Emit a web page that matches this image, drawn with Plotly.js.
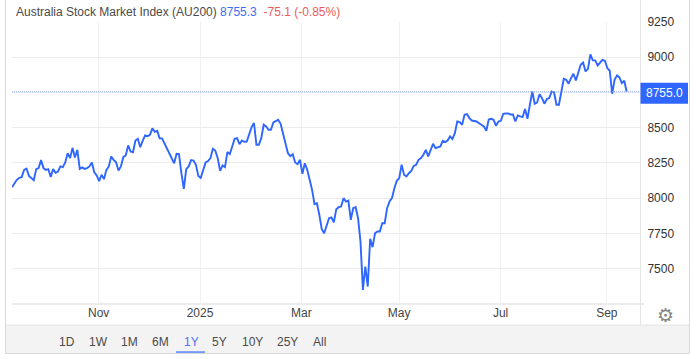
<!DOCTYPE html>
<html><head><meta charset="utf-8">
<script src="https://cdn.plot.ly/plotly-3.0.1.min.js"></script>
<style>html,body{margin:0;padding:0;background:#fff;overflow:hidden}</style>
</head><body><div id="chart" style="width:698px;height:359px"></div>
<script>
// Index level per trading session (one year of daily closes)
const closeOct = [8078,8102,8130,8144,8149,8201,8210,8158,8144,8128,8206,8213,8270,8213,8201,8206,8151,8206,8180,8189,8225,8220,8253,8319,8284,8357,8289,8343,8208,8218,8208,8213,8225,8253,8184,8161];
const closeNovDec = [8121,8166,8135,8201,8225,8296,8272,8255,8196,8225,8291,8303,8374,8331,8326,8409,8421,8362,8407,8445,8440,8450,8495,8471,8478,8424,8424,8390,8350,8326,8291,8248,8315,8312,8177,8066,8206,8225,8270,8267,8236,8158];
const closeJanFeb = [8144,8201,8253,8263,8284,8350,8338,8284,8194,8232,8220,8327,8312,8367,8421,8426,8383,8409,8400,8402,8462,8504,8533,8379,8379,8426,8521,8509,8485,8485,8537,8544,8556,8528,8462,8391,8320,8298,8312,8253,8241,8272,8173];
const closeMarApr = [8248,8201,8130,8059,7957,7964,7881,7780,7751,7799,7858,7863,7829,7922,7936,7941,8000,7976,7983,7846,7929,7936,7858,7692,7349,7515,7373,7711,7652,7751,7763,7763,7822,7822,7929,7976,8000,8071,8123,8142];
const closeMayJun = [8237,8166,8154,8177,8194,8229,8237,8272,8284,8308,8343,8296,8343,8386,8355,8362,8367,8407,8398,8409,8438,8419,8461,8544,8540,8521,8592,8596,8568,8551,8549,8544,8532,8523,8509,8478,8558,8563,8556,8514,8544,8549,8599,8601,8601,8594,8594];
const closeJulAug = [8544,8587,8580,8575,8632,8563,8663,8757,8670,8679,8738,8710,8670,8703,8710,8757,8750,8663,8663,8769,8847,8840,8812,8852,8883,8835,8888,8947,8963,8899,8918,9020,8978,8978,8942,8966,8982,8975,8923,8904];
const closeSep = [8741,8840,8871,8857,8817,8833,8755.3];
const seriesValues = [].concat(closeOct, closeNovDec, closeJanFeb, closeMarApr, closeMayJun, closeJulAug, closeSep);
const sessions = seriesValues.map((_, i) => i);

const monthTickSessions = [35.8, 77.7, 119.6, 160, 201.9, 245.8];
const monthTickLabels = ['Nov', '2025', 'Mar', 'May', 'Jul', 'Sep'];
const priceTicks = [7500, 7750, 8000, 8250, 8500, 8750, 9000, 9250];
const priceTickLabels = ['7500', '7750', '8000', '8250', '8500', '', '9000', '9250'];
const rangeButtons = ['1D', '1W', '1M', '6M', '1Y', '5Y', '10Y', '25Y', 'All'];
const lastPrice = 8755.0;

const W = 698, H = 359, L = 12, R = 640, T = 22.3, B = 304;
const px = x => (x - L) / (R - L);
const py = y => (B - y) / (B - T);
const BLUE = '#2f66ff';
const buttonCentres = [66.5, 98, 129.5, 160.5, 191, 219, 252, 287, 319];
const rect = (x0, y0, x1, y1, fill, line) => ({type: 'rect', xref: 'paper', yref: 'paper', layer: 'below',
  x0: px(x0), x1: px(x1), y0: py(y0), y1: py(y1), fillcolor: fill, line: {width: line ? 1 : 0, color: line || fill}});
const seg = (x0, y0, x1, y1, color, width) => ({type: 'line', xref: 'paper', yref: 'paper', layer: 'below',
  x0: px(x0), x1: px(x1), y0: py(y0), y1: py(y1), line: {color, width}});

const annotations = [
  {xref: 'paper', yref: 'paper', x: px(14), y: py(12), xanchor: 'left', yanchor: 'middle', showarrow: false,
   font: {family: 'Liberation Sans, Arial, sans-serif', size: 12, color: '#4a4a4a'},
   text: 'Australia Stock Market Index (AU200) <span style="color:#3c6cf5">8755.3</span>  <span style="color:#f05a5a">-75.1 (-0.85%)</span>'},
  {xref: 'paper', yref: 'paper', x: px(664.5), y: py(93.5), xanchor: 'center', yanchor: 'middle', showarrow: false,
   font: {family: 'Liberation Sans, Arial, sans-serif', size: 12, color: '#ffffff'}, text: lastPrice.toFixed(1)},
  {xref: 'paper', yref: 'paper', x: px(665), y: py(315), xanchor: 'center', yanchor: 'middle', showarrow: false,
   font: {family: 'DejaVu Sans', size: 19, color: '#858585'}, text: '\u2699'}
].concat(rangeButtons.map((t, i) => ({
  xref: 'paper', yref: 'paper', x: px(buttonCentres[i]), y: py(341.5), xanchor: 'center', yanchor: 'middle', showarrow: false,
  font: {family: 'Liberation Sans, Arial, sans-serif', size: 12, color: t === '1Y' ? '#5b6cf0' : '#4a4a4a'}, text: t
})));

const shapes = [
  rect(6, 325, 689, 353, '#f3f3f3'),
  seg(5.5, 0, 5.5, 353.5, '#d9d9d9', 1),
  seg(5, 353.5, 689.5, 353.5, '#d9d9d9', 1),
  seg(689.5, 0, 689.5, 353.5, '#d9d9d9', 1),
  seg(6, 325, 689, 325, '#e4e4e4', 1),
  seg(640.5, 0, 640.5, 325, '#e4e4e4', 1),
  seg(L, 304, 644, 304, '#e6e6e6', 1.5),
  seg(176, 352, 205, 352, BLUE, 1.2),
  {type: 'line', xref: 'paper', yref: 'y', x0: 0, x1: 1, y0: lastPrice, y1: lastPrice, line: {color: '#8fabff', width: 1, dash: '1px,1px'}},
  {type: 'rect', xref: 'paper', yref: 'paper', x0: px(640.5), x1: px(688), y0: py(83), y1: py(104), fillcolor: BLUE, line: {width: 0}, layer: 'above'}
];

Plotly.newPlot('chart', [{
  x: sessions, y: seriesValues, type: 'scatter', mode: 'lines',
  line: {color: BLUE, width: 1.9, shape: 'linear'}, hoverinfo: 'skip', cliponaxis: true
}], {
  width: W, height: H, showlegend: false,
  paper_bgcolor: '#ffffff', plot_bgcolor: '#ffffff',
  margin: {l: L, r: W - R, t: T, b: H - B, pad: 0},
  font: {family: 'Liberation Sans, Arial, sans-serif', size: 12, color: '#333333'},
  xaxis: {range: [0, (R - L) / 2.42], tickmode: 'array', tickvals: monthTickSessions, ticktext: monthTickLabels,
    showgrid: true, gridcolor: '#f1f1f4', gridwidth: 1, zeroline: false, showline: false, ticks: '', ticklen: 0,
    tickfont: {size: 12, color: '#444444'}, automargin: false},
  yaxis: {side: 'right', range: [7249, 9250], tickmode: 'array', tickvals: priceTicks, ticktext: priceTickLabels,
    showgrid: true, gridcolor: '#ececec', gridwidth: 1, zeroline: false, showline: false,
    ticks: 'outside', ticklen: 4, tickcolor: 'rgba(0,0,0,0)', tickfont: {size: 12, color: '#333333'}, automargin: false},
  shapes, annotations
}, {displayModeBar: false, staticPlot: true});
</script></body></html>
